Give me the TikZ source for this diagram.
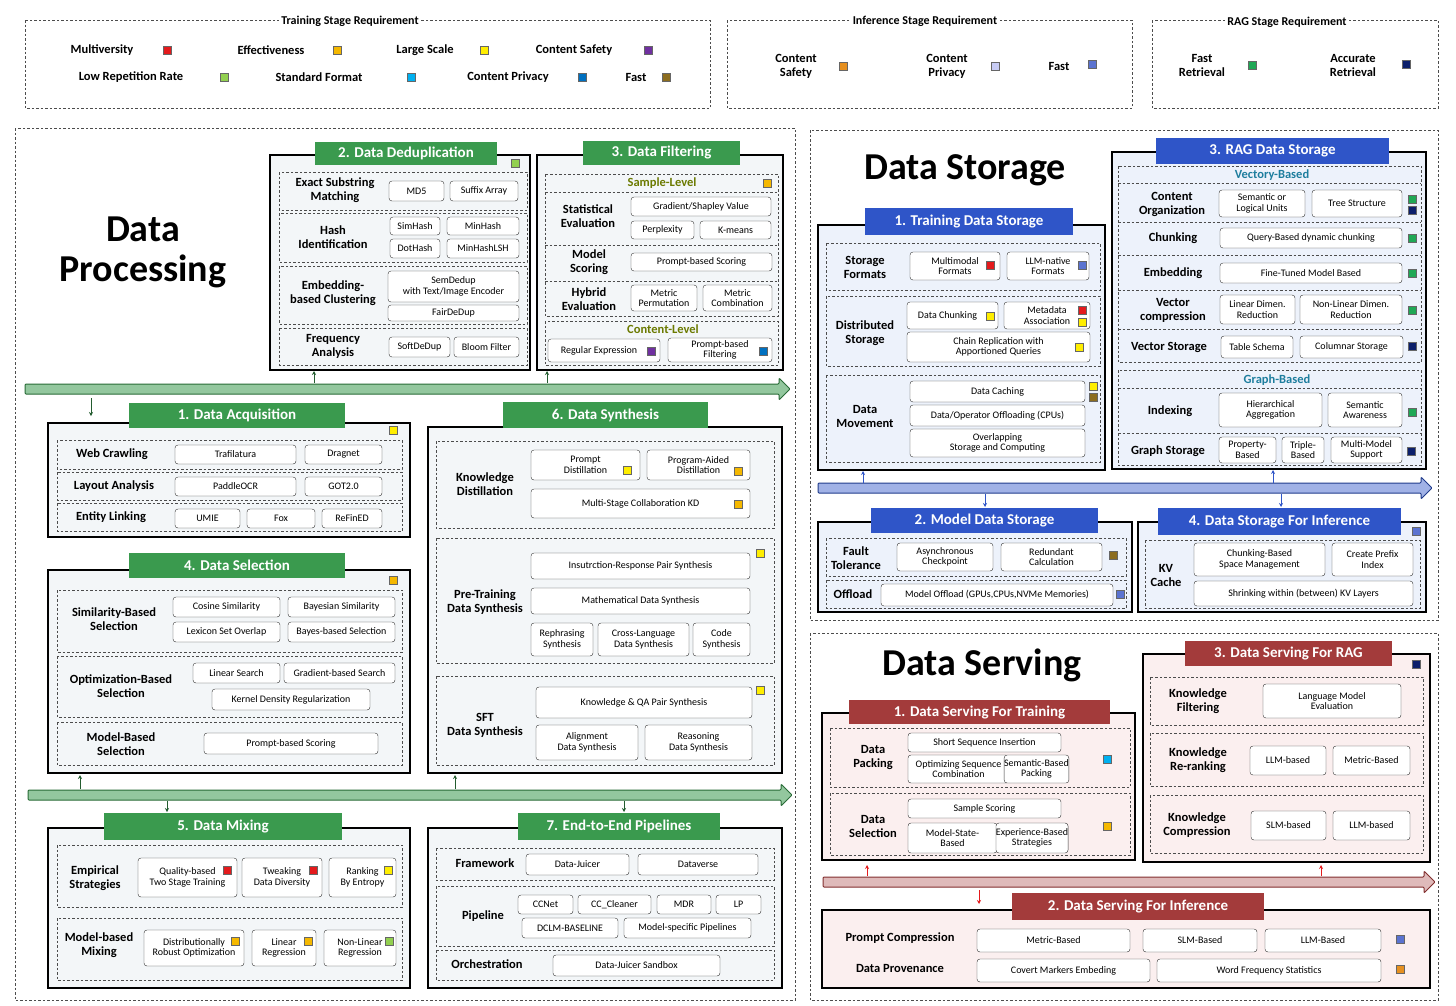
\documentclass[tikz,border=0pt]{standalone}
\usepackage{fontspec}
\setmainfont{Carlito}
\definecolor{cR}{HTML}{E41A1C}\definecolor{cO}{HTML}{F5B800}\definecolor{cY}{HTML}{FFEE00}
\definecolor{cP}{HTML}{7030A0}\definecolor{cG}{HTML}{92D050}\definecolor{cC}{HTML}{00B0F0}
\definecolor{cB}{HTML}{0070C0}\definecolor{cBr}{HTML}{8C6D1F}\definecolor{cIO}{HTML}{E69020}
\definecolor{cIL}{HTML}{C8CCF5}\definecolor{cIB}{HTML}{5B73D0}\definecolor{cRG}{HTML}{1FA855}
\definecolor{cRN}{HTML}{0C1F6B}
\definecolor{hG}{HTML}{3A9A4E}\definecolor{hB}{HTML}{2F55C8}\definecolor{hR}{HTML}{A33B3B}
\definecolor{fG}{HTML}{F3F6F8}\definecolor{fB}{HTML}{EDF2FB}\definecolor{fR}{HTML}{FBEFEF}
\definecolor{olive}{HTML}{6B7A00}\definecolor{teal2}{HTML}{1E7E9E}
\newcounter{nn}
\usetikzlibrary{arrows.meta}
\tikzset{
 pill/.style={draw=black!80,fill=white,rounded corners=3pt,inner sep=0pt,align=center,font=\fontsize{10}{10.5}\selectfont},
 dsh/.style={draw=black!70,dash pattern=on 2.5pt off 2pt,line width=0.7pt},
 bx/.style={draw=black,line width=1.3pt},
 hdr/.style={text=white,inner sep=0pt,font=\bfseries\fontsize{15}{16}\selectfont},
 lab/.style={align=center,inner sep=0pt,font=\bfseries\fontsize{12.5}{14}\selectfont},
 sqs/.style={draw=black!60,line width=0.4pt,minimum size=8.5pt,inner sep=0pt},
 ttl/.style={align=center,inner sep=0pt,font=\bfseries\fontsize{38}{40}\selectfont},
 lt/.style={fill=white,inner sep=2pt,font=\bfseries\fontsize{12}{13}\selectfont},
 sa/.style={-{Stealth[length=4pt,width=4pt]},line width=1pt}
}
\newcommand\pil[5]{\stepcounter{nn}\node[pill,minimum width={(#3-#1)*1pt},minimum height={(#4-#2)*1pt}] (p\thenn) at ({(#1+#3)/2},{(#2+#4)/2}) {#5};}
\newcommand\dsb[4]{\draw[dsh] (#1,#2) rectangle (#3,#4);}
\newcommand\bxx[5]{\draw[bx,fill=#5] (#1,#2) rectangle (#3,#4);}
\newcommand\hdrr[6]{\stepcounter{nn}\node[hdr,fill=#5,minimum width={(#3-#1)*1pt},minimum height={(#4-#2)*1pt}] (h\thenn) at ({(#1+#3)/2},{(#2+#4)/2}) {#6};}
\newcommand\labb[3]{\stepcounter{nn}\node[lab] (l\thenn) at (#1,#2) {#3};}
\newcommand\sqr[3]{\stepcounter{nn}\node[sqs,fill=#3] (s\thenn) at (#1,#2) {};}
\newcommand\arrw[5]{\draw[fill=#4,draw=#5,line width=1pt,rounded corners=1pt] (#1,#3-5) -- ({#2-11},#3-5) -- ({#2-11},#3-11) -- (#2,#3) -- ({#2-11},#3+11) -- ({#2-11},#3+5) -- (#1,#3+5) -- cycle;}
\newcommand\smup[4]{\stepcounter{nn}\coordinate (a\thenn) at (#1,#2);\stepcounter{nn}\coordinate (a\thenn) at (#1,#3);\draw[sa,#4] (a\the\numexpr\value{nn}-1\relax) -- (a\thenn);}
\begin{document}
\begin{tikzpicture}[x=1pt,y=-1pt]
\useasboundingbox (0,0) rectangle (1456,1005);
% legends
\dsb{25}{20}{710}{108}\dsb{727}{20}{1132}{108}\dsb{1152}{20}{1438}{108}
\node[lt] (t1) at (350,21) {Training Stage Requirement};
\node[lt] (t2) at (925,21) {Inference Stage Requirement};
\node[lt] (t3) at (1287,22) {RAG Stage Requirement};
\labb{102}{50}{Multiversity}\sqr{167}{50}{cR}
\labb{271}{50}{Effectiveness}\sqr{337}{50}{cO}
\labb{425}{50}{Large Scale}\sqr{484}{50}{cY}
\labb{574}{50}{Content Safety}\sqr{648}{50}{cP}
\labb{131}{77}{Low Repetition Rate}\sqr{224}{77}{cG}
\labb{319}{77}{Standard Format}\sqr{411}{77}{cC}
\labb{508}{77}{Content Privacy}\sqr{582}{77}{cB}
\labb{636}{77}{Fast}\sqr{666}{77}{cBr}
\labb{796}{66}{Content\\Safety}\sqr{843}{66}{cIO}
\labb{947}{66}{Content\\Privacy}\sqr{995}{66}{cIL}
\labb{1059}{66}{Fast}\sqr{1092}{64}{cIB}
\labb{1202}{65}{Fast\\Retrieval}\sqr{1252}{65}{cRG}
\labb{1353}{65}{Accurate\\Retrieval}\sqr{1406}{64}{cRN}
% panels
\dsb{15}{128}{795}{1000}\dsb{810}{130}{1438}{620}\dsb{810}{633}{1438}{1000}
\node[ttl] (T1) at (143,252) {Data\\Processing};
\node[ttl] (T2) at (965,170) {Data Storage};
\node[ttl] (T3) at (982,665) {Data Serving};
% ---- Dedup
\bxx{270}{155}{530}{370}{fG}\hdrr{315}{142}{497}{165}{hG}{2. Data Deduplication}\sqr{515}{163}{cG}
\dsb{279}{172}{527}{210}\dsb{279}{213}{527}{262}\dsb{279}{266}{527}{324}\dsb{279}{328}{527}{365}
\labb{335}{190}{Exact Substring\\Matching}\pil{389}{181}{444}{201}{MD5}\pil{450}{181}{518}{201}{Suffix Array}
\labb{333}{237}{Hash\\Identification}\pil{390}{217}{440}{235}{SimHash}\pil{447}{217}{519}{235}{MinHash}
\pil{390}{239}{440}{258}{DotHash}\pil{447}{239}{519}{258}{MinHashLSH}
\labb{333}{293}{Embedding-\\based Clustering}\pil{388}{271}{519}{302}{SemDedup\\with Text/Image Encoder}\pil{388}{305}{519}{321}{FairDeDup}
\labb{333}{346}{Frequency\\Analysis}\pil{389}{337}{450}{357}{SoftDeDup}\pil{454}{337}{519}{357}{Bloom Filter}
% ---- Filtering
\bxx{537}{155}{783}{370}{fG}\hdrr{583}{141}{740}{165}{hG}{3. Data Filtering}
\dsb{545}{174}{778}{316}\draw[dsh] (545,192)--(778,192) (545,245)--(778,245) (545,281)--(778,281);
\dsb{545}{321}{778}{365}
\node[lab,text=olive] (sl) at (662,183) {Sample-Level};\sqr{767}{183}{cO}
\labb{588}{216}{Statistical\\Evaluation}\pil{631}{197}{771}{216}{Gradient/Shapley Value}
\pil{631}{221}{694}{239}{Perplexity}\pil{700}{221}{771}{239}{K-means}
\labb{589}{262}{Model\\Scoring}\pil{631}{253}{772}{271}{Prompt-based Scoring}
\labb{589}{299}{Hybrid\\Evaluation}\pil{631}{285}{697}{311}{Metric\\Permutation}\pil{703}{285}{772}{311}{Metric\\Combination}
\node[lab,text=olive] (cl) at (663,329) {Content-Level};
\pil{548}{339}{660}{362}{Regular Expression\hspace{10pt}}\sqr{651}{351}{cP}
\pil{668}{338}{772}{362}{Prompt-based\\Filtering}\sqr{763}{351}{cB}
% arrows processing
\arrw{25}{790}{389}{hG!55}{hG!70!black}
\arrw{28}{792}{795}{hG!55}{hG!70!black}
\smup{314}{383}{371}{hG!60!black}\smup{547}{383}{371}{hG!60!black}\smup{91}{398}{416}{hG!60!black}
\smup{80}{789}{775}{hG!60!black}\smup{455}{789}{775}{hG!60!black}\smup{167}{801}{812}{hG!60!black}\smup{624}{801}{812}{hG!60!black}
% ---- Acquisition
\bxx{48}{423}{410}{537}{fG}\hdrr{129}{403}{345}{428}{hG}{1. Data Acquisition}\sqr{393}{430}{cY}
\dsb{57}{440}{402}{469}\dsb{57}{472}{402}{500}\dsb{57}{503}{402}{531}
\labb{112}{454}{Web Crawling}\pil{175}{445}{296}{464}{Trafilatura}\pil{305}{445}{382}{464}{Dragnet}
\labb{114}{486}{Layout Analysis}\pil{175}{477}{296}{496}{PaddleOCR}\pil{305}{477}{382}{496}{GOT2.0}
\labb{111}{517}{Entity Linking}\pil{175}{509}{240}{528}{UMIE}\pil{247}{509}{315}{528}{Fox}\pil{322}{509}{382}{528}{ReFinED}
% ---- Selection
\bxx{48}{570}{410}{773}{fG}\hdrr{129}{553}{345}{578}{hG}{4. Data Selection}\sqr{393}{580}{cO}
\dsb{57}{590}{402}{652}\dsb{57}{656}{402}{717}\dsb{57}{722}{402}{765}
\labb{114}{619}{Similarity-Based\\Selection}\pil{173}{597}{280}{617}{Cosine Similarity}\pil{288}{597}{395}{617}{Bayesian Similarity}
\pil{173}{622}{280}{642}{Lexicon Set Overlap}\pil{288}{622}{395}{642}{Bayes-based Selection}
\labb{121}{686}{Optimization-Based\\Selection}\pil{193}{663}{280}{683}{Linear Search}\pil{284}{663}{395}{683}{Gradient-based Search}
\pil{212}{689}{370}{710}{Kernel Density Regularization}
\labb{121}{744}{Model-Based\\Selection}\pil{204}{733}{378}{754}{Prompt-based Scoring}
% ---- Synthesis
\bxx{428}{427}{782}{773}{fG}\hdrr{503}{402}{708}{428}{hG}{6. Data Synthesis}
\dsb{436}{441}{774}{528}\dsb{436}{538}{774}{663}\dsb{436}{676}{774}{765}
\labb{485}{484}{Knowledge\\Distillation}
\pil{531}{450}{640}{480}{Prompt\\Distillation\hspace{12pt}}\sqr{627}{470}{cY}
\pil{647}{450}{750}{480}{Program-Aided\\Distillation\hspace{10pt}}\sqr{738}{471}{cO}
\pil{531}{489}{750}{518}{Multi-Stage Collaboration KD}\sqr{738}{504}{cO}
\labb{485}{602}{Pre-Training\\Data Synthesis}\sqr{760}{553}{cY}
\pil{531}{553}{750}{579}{Insutrction-Response Pair Synthesis}\pil{531}{588}{750}{614}{Mathematical Data Synthesis}
\pil{531}{623}{593}{656}{Rephrasing\\Synthesis}\pil{598}{623}{689}{656}{Cross-Language\\Data Synthesis}\pil{693}{623}{750}{656}{Code\\Synthesis}
\labb{485}{725}{SFT\\Data Synthesis}\sqr{760}{690}{cY}
\pil{536}{687}{752}{718}{Knowledge \& QA Pair Synthesis}
\pil{536}{725}{638}{760}{Alignment\\Data Synthesis}\pil{645}{725}{752}{760}{Reasoning\\Data Synthesis}
% ---- Mixing
\bxx{48}{828}{410}{988}{fG}\hdrr{104}{813}{342}{840}{hG}{5. Data Mixing}
\dsb{57}{845}{402}{907}\dsb{57}{918}{402}{980}
\labb{95}{878}{Empirical\\Strategies}
\pil{138}{858}{237}{897}{Quality-based\\Two Stage Training}\sqr{227}{870}{cR}
\pil{242}{858}{322}{897}{Tweaking\hspace{9pt}\\Data Diversity}\sqr{313}{870}{cR}
\pil{329}{858}{396}{897}{Ranking\hspace{9pt}\\By Entropy}\sqr{388}{870}{cY}
\labb{99}{945}{Model-based\\Mixing}
\pil{144}{930}{244}{966}{Distributionally\hspace{9pt}\\Robust Optimization}\sqr{235}{941}{cO}
\pil{252}{930}{316}{966}{Linear\hspace{9pt}\\Regression}\sqr{308}{941}{cO}
\pil{324}{930}{396}{966}{Non-Linear\hspace{9pt}\\Regression}\sqr{389}{941}{cG}
% ---- Pipelines
\bxx{428}{828}{782}{988}{fG}\hdrr{518}{813}{720}{840}{hG}{7. End-to-End Pipelines}
\dsb{436}{848}{774}{880}\dsb{436}{886}{774}{946}\dsb{436}{950}{774}{980}
\labb{485}{863}{Framework}\pil{526}{854}{629}{875}{Data-Juicer}\pil{638}{854}{758}{875}{Dataverse}
\labb{483}{916}{Pipeline}\pil{518}{895}{573}{914}{CCNet}\pil{578}{895}{651}{914}{CC\_Cleaner}\pil{657}{895}{711}{914}{MDR}\pil{716}{895}{761}{914}{LP}
\pil{522}{918}{618}{938}{DCLM-BASELINE}\pil{624}{918}{751}{938}{Model-specific Pipelines}
\labb{487}{964}{Orchestration}\pil{553}{955}{720}{976}{Data-Juicer Sandbox}
% ======== Storage
\bxx{818}{225}{1105}{470}{fB}\hdrr{865}{208}{1073}{235}{hB}{1. Training Data Storage}
\dsb{826}{243}{1100}{290}\dsb{826}{296}{1100}{366}\dsb{826}{375}{1100}{462}
\labb{865}{267}{Storage\\Formats}\pil{910}{252}{1000}{280}{Multimodal\\Formats}\sqr{990}{265}{cR}
\pil{1007}{252}{1089}{280}{LLM-native\\Formats}\sqr{1082}{265}{cIB}
\labb{865}{333}{Distributed\\Storage}\pil{907}{302}{998}{329}{Data Chunking\hspace{10pt}}\sqr{990}{316}{cY}
\pil{1004}{302}{1090}{329}{Metadata\hspace{10pt}\\Association\hspace{10pt}}\sqr{1082}{310}{cR}\sqr{1082}{322}{cY}
\pil{907}{332}{1090}{362}{Chain Replication with\\Apportioned Queries}\sqr{1079}{347}{cY}
\labb{865}{416}{Data\\Movement}\pil{910}{381}{1085}{402}{Data Caching}\pil{910}{405}{1085}{426}{Data/Operator Offloading (CPUs)}
\pil{910}{429}{1085}{457}{Overlapping\\Storage and Computing}\sqr{1093}{386}{cY}\sqr{1093}{397}{cBr}
% RAG storage
\bxx{1112}{152}{1426}{469}{fB}\hdrr{1156}{138}{1389}{164}{hB}{3. RAG Data Storage}
\dsb{1118}{166}{1421}{362}\draw[dsh] (1118,183)--(1421,183) (1118,222)--(1421,222) (1118,255)--(1421,255) (1118,290)--(1421,290) (1118,329)--(1421,329);
\dsb{1118}{370}{1421}{465}\draw[dsh] (1118,388)--(1421,388) (1118,433)--(1421,433);
\node[lab,text=teal2] (vb) at (1272,175) {Vectory-Based};
\node[lab,text=teal2] (gb) at (1277,380) {Graph-Based};
\labb{1172}{204}{Content\\Organization}\pil{1219}{190}{1305}{217}{Semantic or\\Logical Units}\pil{1312}{190}{1402}{217}{Tree Structure}\sqr{1412}{199}{cRG}\sqr{1412}{210}{cRN}
\labb{1173}{238}{Chunking}\pil{1220}{228}{1402}{248}{Query-Based dynamic chunking}\sqr{1412}{238}{cRG}
\labb{1173}{273}{Embedding}\pil{1220}{263}{1402}{283}{Fine-Tuned Model Based}\sqr{1412}{273}{cRG}
\labb{1173}{310}{Vector\\compression}\pil{1220}{295}{1295}{324}{Linear Dimen.\\Reduction}\pil{1300}{295}{1402}{324}{Non-Linear Dimen.\\Reduction}\sqr{1412}{310}{cRG}
\labb{1169}{347}{Vector Storage}\pil{1221}{336}{1293}{358}{Table Schema}\pil{1300}{336}{1403}{358}{Columnar Storage}\sqr{1412}{346}{cRN}
\labb{1170}{411}{Indexing}\pil{1219}{393}{1322}{427}{Hierarchical\\Aggregation}\pil{1328}{393}{1402}{427}{Semantic\\Awareness}\sqr{1412}{412}{cRG}
\labb{1168}{451}{Graph Storage}\pil{1219}{437}{1276}{463}{Property-\\Based}\pil{1282}{437}{1324}{463}{Triple-\\Based}\pil{1331}{437}{1402}{463}{Multi-Model\\Support}\sqr{1411}{451}{cRN}
\arrw{818}{1432}{488}{hB!45}{hB!70!black}
\smup{863}{483}{471}{hB}\smup{1273}{483}{470}{hB}\smup{985}{494}{507}{hB}\smup{1281}{494}{507}{hB}
% model storage
\bxx{818}{522}{1132}{612}{fB}\hdrr{871}{508}{1098}{533}{hB}{2. Model Data Storage}
\dsb{826}{538}{1126}{576}\dsb{826}{580}{1126}{608}
\labb{856}{558}{Fault\\Tolerance}\pil{897}{543}{993}{571}{Asynchronous\\Checkpoint}\pil{1001}{543}{1102}{571}{Redundant\\Calculation}\sqr{1113}{555}{cBr}
\labb{853}{594}{Offload}\pil{881}{584}{1113}{606}{Model Offload (GPUs,CPUs,NVMe Memories)}\sqr{1120}{594}{cIB}
% inference storage
\bxx{1138}{522}{1426}{612}{fB}\hdrr{1158}{508}{1401}{535}{hB}{4. Data Storage For Inference}\sqr{1416}{531}{cIB}
\dsb{1145}{540}{1420}{608}
\labb{1166}{575}{KV\\Cache}\pil{1194}{543}{1325}{576}{Chunking-Based\\Space Management}\pil{1332}{543}{1413}{576}{Create Prefix\\Index}
\pil{1194}{581}{1413}{606}{Shrinking within (between) KV Layers}
% ======== Serving
\bxx{822}{713}{1135}{860}{fR}\hdrr{849}{700}{1110}{724}{hR}{1. Data Serving For Training}
\dsb{830}{728}{1130}{787}\dsb{830}{793}{1130}{855}
\labb{873}{757}{Data\\Packing}\pil{908}{733}{1061}{752}{Short Sequence Insertion}
\pil{908}{755}{1009}{783}{Optimizing Sequence\\Combination}\pil{1012}{755}{1061}{783}{Semantic-Based\\Packing}\sqr{1107}{759}{cC}
\labb{873}{826}{Data\\Selection}\pil{908}{799}{1061}{818}{Sample Scoring}
\pil{908}{823}{997}{853}{Model-State-\\Based}\pil{1003}{823}{1061}{853}{Experience-Based\\Strategies}\sqr{1107}{826}{cO}
\bxx{1143}{654}{1430}{862}{fR}\hdrr{1185}{641}{1392}{666}{hR}{3. Data Serving For RAG}\sqr{1416}{664}{cRN}
\dsb{1150}{677}{1423}{725}\dsb{1150}{733}{1423}{786}\dsb{1150}{795}{1423}{853}
\labb{1198}{701}{Knowledge\\Filtering}\pil{1263}{684}{1401}{718}{Language Model\\Evaluation}
\labb{1198}{760}{Knowledge\\Re-ranking}\pil{1250}{746}{1326}{775}{LLM-based}\pil{1333}{746}{1410}{775}{Metric-Based}
\labb{1197}{825}{Knowledge\\Compression}\pil{1251}{811}{1326}{840}{SLM-based}\pil{1333}{811}{1410}{840}{LLM-based}
\arrw{823}{1435}{882}{hR!35}{hR!80!black}
\smup{867}{876}{865}{cR}\smup{1321}{876}{865}{cR}\smup{979}{890}{904}{cR}
\bxx{822}{910}{1430}{988}{fR}\hdrr{1012}{893}{1264}{920}{hR}{2. Data Serving For Inference}
\labb{900}{938}{Prompt Compression}\pil{977}{929}{1130}{952}{Metric-Based}\pil{1143}{929}{1257}{952}{SLM-Based}\pil{1265}{929}{1381}{952}{LLM-Based}\sqr{1400}{939}{cIB}
\labb{900}{968}{Data Provenance}\pil{977}{959}{1150}{982}{Covert Markers Embeding}\pil{1157}{959}{1381}{982}{Word Frequency Statistics}\sqr{1400}{969}{cIO}
\end{tikzpicture}
\end{document}
